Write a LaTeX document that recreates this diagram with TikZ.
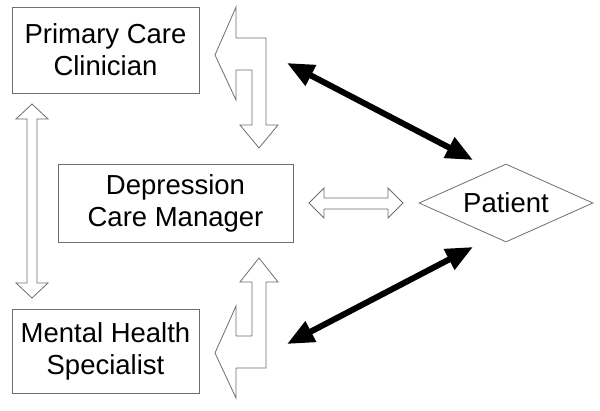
\documentclass[tikz,border=0pt]{standalone}
\usepackage{fontspec}
\setmainfont{Liberation Sans}
\usetikzlibrary{shapes.geometric,arrows.meta}
\definecolor{edgegray}{RGB}{110,110,110}
\begin{document}
\begin{tikzpicture}[x=1pt,y=-1pt,
  txt/.style={font=\fontsize{27.5}{32}\selectfont, align=center},
  box/.style={txt, draw=edgegray, line width=0.8pt, rectangle, inner sep=0pt},
  blockarrow/.style={draw=edgegray, line width=0.8pt, fill=white, line join=miter},
  boldarrow/.style={line width=6pt, {Triangle[length=27pt,width=22pt]}-{Triangle[length=27pt,width=22pt]}}]
\useasboundingbox (0,0) rectangle (600,410);
% boxes
\node[box, minimum width=187pt, minimum height=86pt] (pcc) at (105.5,50) {Primary Care\\Clinician};
\node[box, minimum width=235pt, minimum height=78pt] (dcm) at (175.5,203) {Depression\\Care Manager};
\node[box, minimum width=187pt, minimum height=84pt] (mhs) at (105.5,351) {Mental Health\\Specialist};
\node[txt, draw=edgegray, line width=0.8pt, diamond, aspect=2.23, minimum width=174pt, minimum height=78pt, inner sep=0pt] (pat) at (506,203) {Patient};
% bent block arrow (top)
\draw[blockarrow] (215,55) -- (236,7) -- (236,38) -- (266,38) -- (266,125) -- (278,125) -- (259,148) -- (240,125) -- (252,125) -- (252,70) -- (236,70) -- (236,100) -- cycle;
% bent block arrow (bottom)
\draw[blockarrow] (259,258) -- (278,282) -- (266,282) -- (266,368) -- (236,368) -- (236,398) -- (215,353) -- (236,306) -- (236,336) -- (252,336) -- (252,282) -- (240,282) -- cycle;
% vertical double block arrow
\draw[blockarrow] (32,104) -- (48,119) -- (37,119) -- (37,283) -- (48,283) -- (32,298) -- (16,283) -- (27,283) -- (27,119) -- (16,119) -- cycle;
% horizontal double block arrow
\draw[blockarrow] (309,203) -- (324,188) -- (324,198) -- (388,198) -- (388,188) -- (403,203) -- (388,218) -- (388,209) -- (324,209) -- (324,218) -- cycle;
% bold arrows
\coordinate (a1) at (287,63);
\coordinate (a2) at (473,160);
\coordinate (b1) at (473,247);
\coordinate (b2) at (287,344);
\draw[boldarrow] (a1) -- (a2);
\draw[boldarrow] (b1) -- (b2);
\end{tikzpicture}
\end{document}
